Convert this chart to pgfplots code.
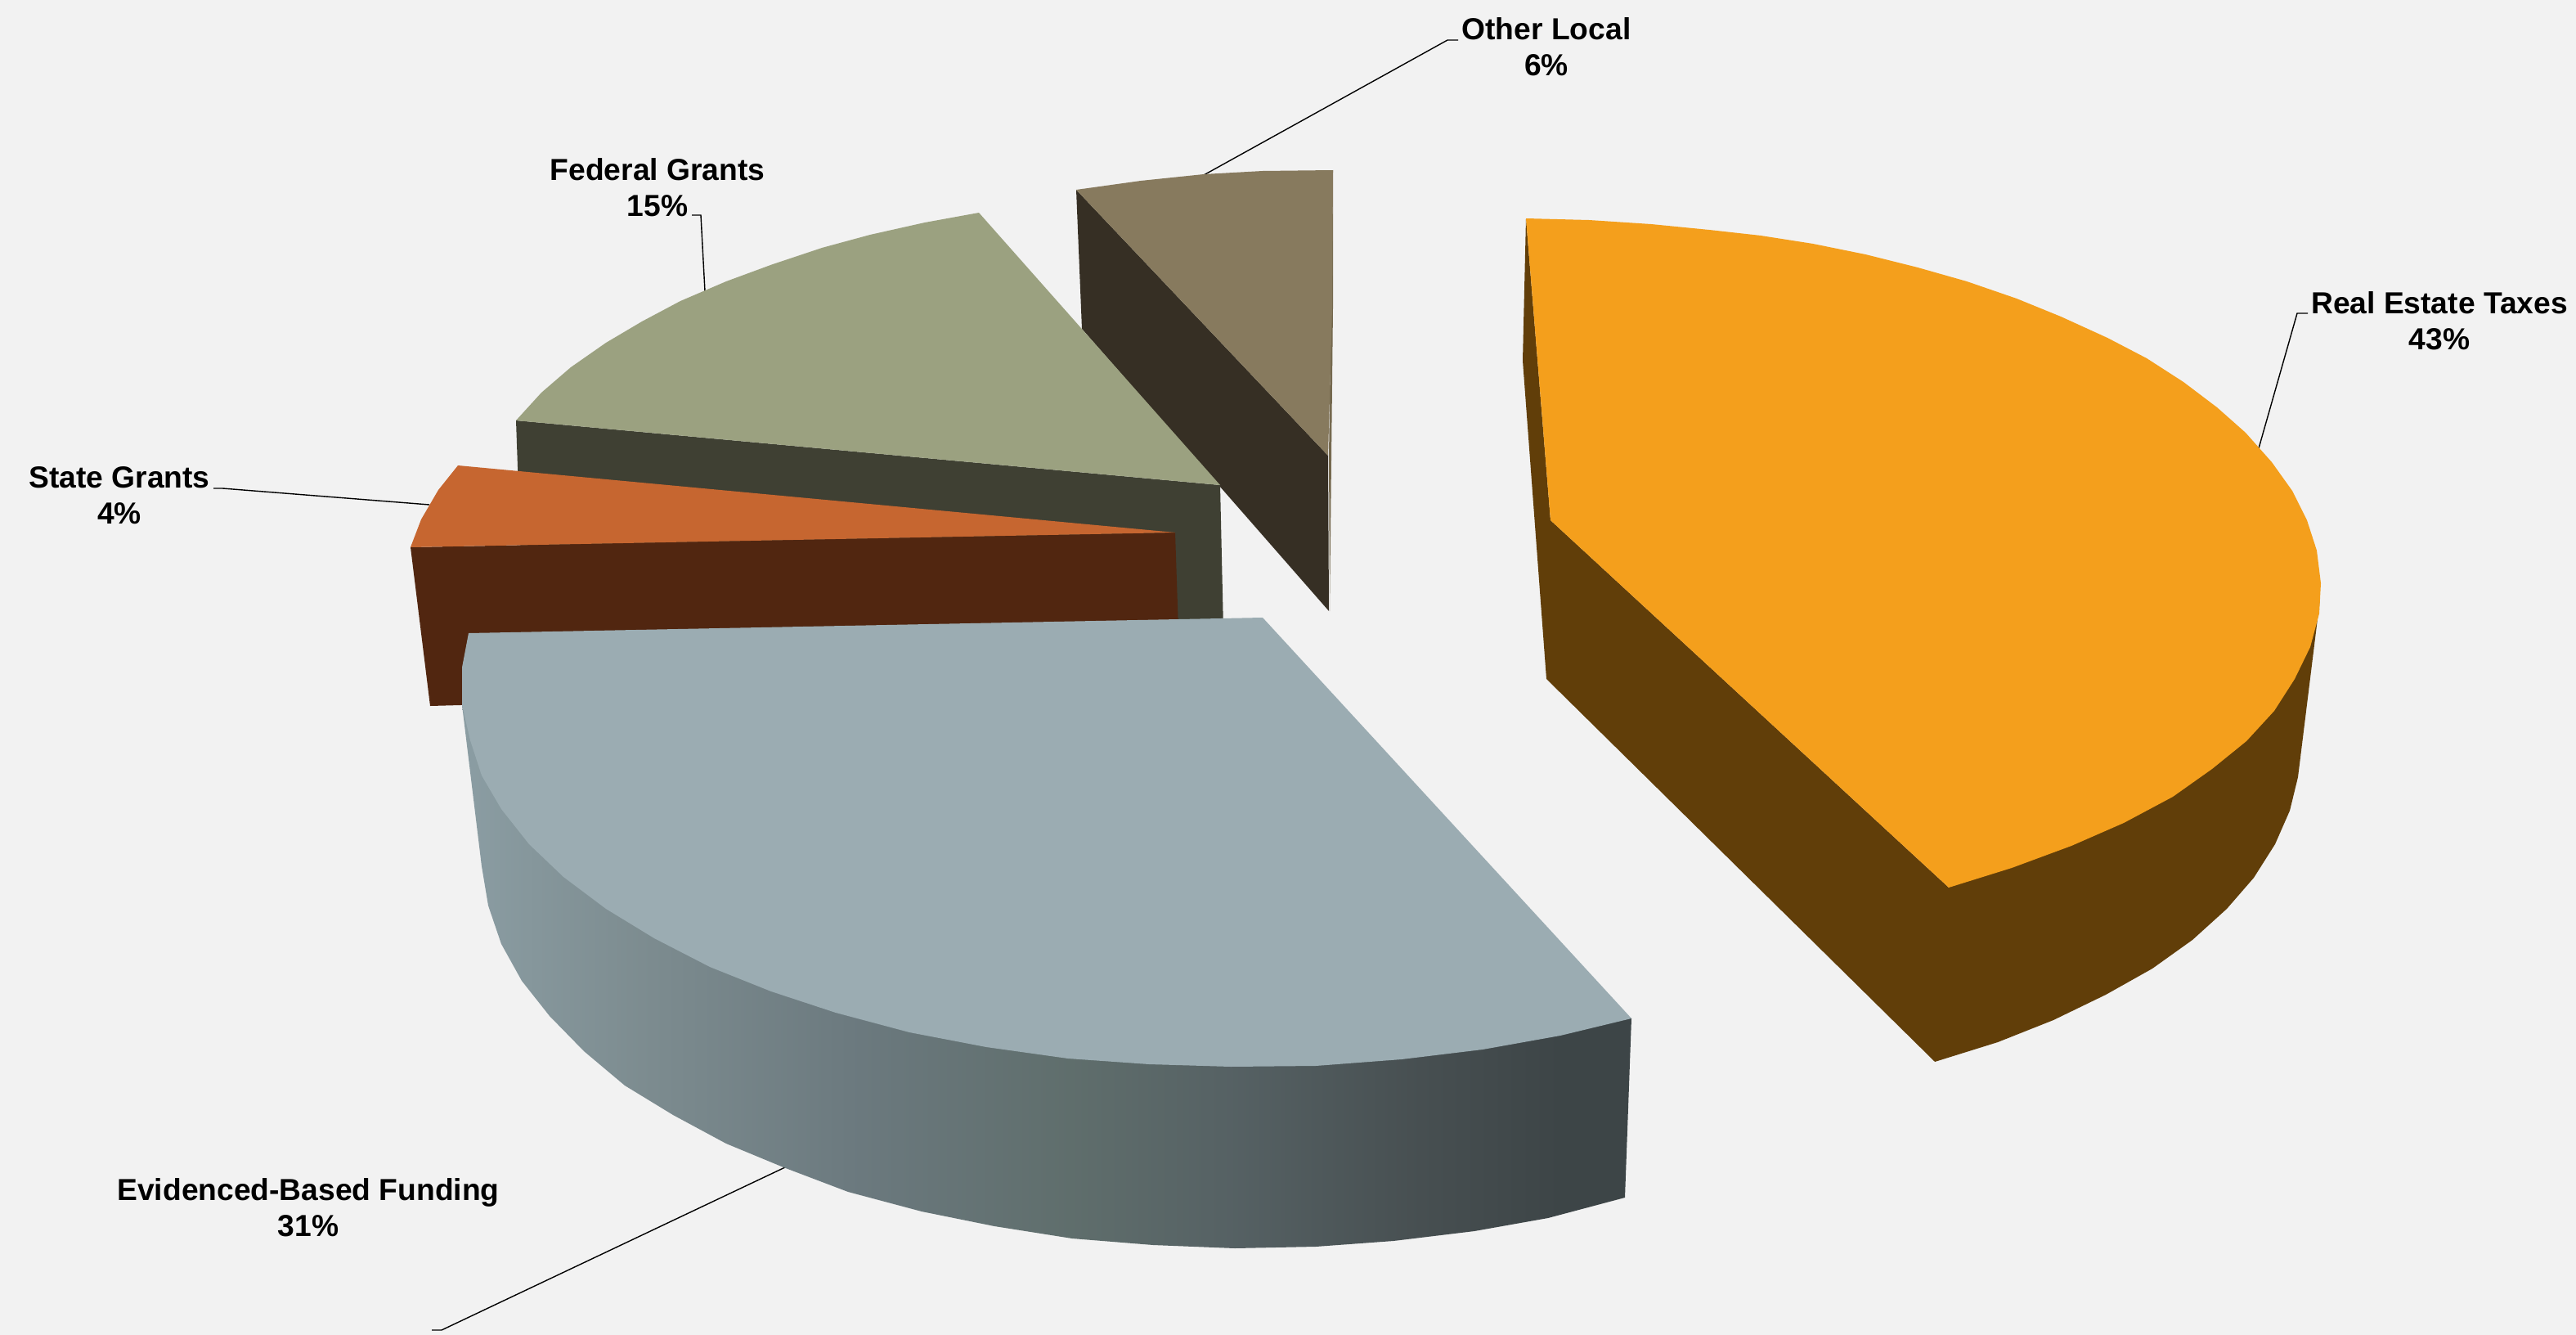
\documentclass[border=0pt]{standalone}
\usepackage{fontspec}
\setmainfont{Liberation Sans}
\usepackage{pgfplots}
\pgfplotsset{compat=1.18}
\definecolor{bg}{HTML}{F2F2F2}
\definecolor{estateTop}{HTML}{F49F1C}
\definecolor{estateSide}{HTML}{613E09}
\definecolor{fedTop}{HTML}{9BA180}
\definecolor{fedSide}{HTML}{3F4033}
\definecolor{stateTop}{HTML}{C66630}
\definecolor{stateSide}{HTML}{512610}
\definecolor{ebfTop}{HTML}{9BACB2}
\definecolor{localTop}{HTML}{877A5E}
\definecolor{localSide}{HTML}{362F24}
\definecolor{localLip}{HTML}{75694F}
% side of the large blue slice, dark to the right
\pgfdeclarehorizontalshading{ebfside}{100bp}{
  rgb(0bp)=(0.545,0.616,0.639);
  rgb(25bp)=(0.545,0.616,0.639);
  rgb(32.6bp)=(0.49,0.55,0.565);
  rgb(42bp)=(0.42,0.475,0.495);
  rgb(51bp)=(0.373,0.431,0.424);
  rgb(58bp)=(0.335,0.38,0.39);
  rgb(66bp)=(0.278,0.31,0.318);
  rgb(72bp)=(0.239,0.27,0.278);
  rgb(100bp)=(0.239,0.27,0.278)}
\pgfplotsset{
  leader/.style={black, line width=0.7pt, no marks},
  slice/.style={draw=none, no marks},
}
\tikzset{lab/.style={font=\fontsize{18.6}{22}\selectfont\bfseries, align=center, black, inner sep=0pt}}
\begin{document}
\begin{tikzpicture}
\begin{axis}[
    scale only axis,
    width=1575pt, height=816pt,
    xmin=0, xmax=3150,
    ymin=0, ymax=1632,
    y dir=reverse,
    hide axis,
    clip=false,
]
% background
\addplot[slice, fill=bg] coordinates {(0,0) (3150,0) (3150,1632) (0,1632)} --cycle;

% leaders
\addplot[leader] coordinates {(2762,548) (2809,383) (2822,383)};
\addplot[leader] coordinates {(1472,214) (1770,49) (1783,49)};
\addplot[leader] coordinates {(862,356) (857,263) (846,263)};
\addplot[leader] coordinates {(525,617) (272,597) (261,597)};
\addplot[leader] coordinates {(960,1427) (540,1626) (528,1626)};

% Real Estate Taxes
\addplot[slice, fill=estateSide] coordinates {
 (1866,267) (1862,441) (1891,830) (2366,1298) (2443,1274) (2511,1247) (2575,1216)
 (2632,1184) (2681,1149) (2723,1111) (2756,1073) (2782,1032) (2800,991) (2810,950)
 (2837,732) (2383,1085) (1896,636)} --cycle;
\addplot[slice, fill=estateTop] coordinates {
 (1866,267) (1943,269) (2019,274) (2090,281) (2153,288) (2217,298) (2281,311)
 (2345,327) (2405,344) (2466,365) (2520,387) (2577,413) (2625,438) (2670,467)
 (2711,498) (2746,529) (2778,565) (2803,600) (2821,636) (2833,673) (2838,713)
 (2836,750) (2825,791) (2806,830) (2781,869) (2747,906) (2705,940) (2657,974)
 (2597,1006) (2533,1034) (2460,1061) (2383,1085) (1896,636)} --cycle;

% Other Local
\addplot[slice, fill=localLip] coordinates {(1630,208) (1630,376) (1626,747) (1625,557)} --cycle;
\addplot[slice, fill=localSide] coordinates {(1316,232) (1323,402) (1625,747) (1624,557)} --cycle;
\addplot[slice, fill=localTop] coordinates {
 (1316,232) (1395,221) (1472,213) (1544,209) (1630,208) (1629,376) (1624,557)} --cycle;

% Federal Grants
\addplot[slice, fill=fedSide] coordinates {(631,514) (1492,593) (1496,770) (640,770)} --cycle;
\addplot[slice, fill=fedTop] coordinates {
 (1197,260) (1131,272) (1064,287) (1005,303) (945,323) (888,344) (832,368)
 (785,393) (741,419) (698,449) (662,480) (631,514) (1492,593)} --cycle;

% State Grants
\addplot[slice, fill=stateSide] coordinates {(502,669) (1437,651) (1441,770) (600,861) (526,863)} --cycle;
\addplot[slice, fill=stateTop] coordinates {(560,569) (1437,651) (502,669) (515,635) (536,599)} --cycle;

% Evidenced-Based Funding
\addplot[draw=none, no marks, shade, shading=ebfside] coordinates {
 (565,862) (589,1059) (597,1107) (613,1154) (638,1199) (672,1242) (714,1285)
 (764,1327) (823,1363) (888,1398) (958,1427) (1037,1457) (1127,1481) (1216,1499)
 (1311,1514) (1410,1522) (1510,1526) (1609,1524) (1704,1517) (1803,1505)
 (1893,1489) (1987,1464) (1995,1245) (1505,1200)} --cycle;
\addplot[slice, fill=ebfTop] coordinates {
 (573,774) (1544,755) (1995,1245) (1908,1266) (1813,1283) (1714,1295) (1609,1303)
 (1505,1304) (1405,1301) (1306,1294) (1206,1280) (1112,1262) (1022,1238) (943,1212)
 (868,1182) (800,1147) (741,1111) (689,1072) (647,1032) (613,989) (589,948)
 (575,905) (565,862) (565,816)} --cycle;

% labels
\node[lab] at (axis cs:1891,57) {Other Local\\6\%};
\node[lab] at (axis cs:804,229) {Federal Grants\\15\%};
\node[lab] at (axis cs:2983,392) {Real Estate Taxes\\43\%};
\node[lab] at (axis cs:146,606) {State Grants\\4\%};
\node[lab] at (axis cs:377,1476) {Evidenced-Based Funding\\31\%};
\end{axis}
\end{tikzpicture}
\end{document}
